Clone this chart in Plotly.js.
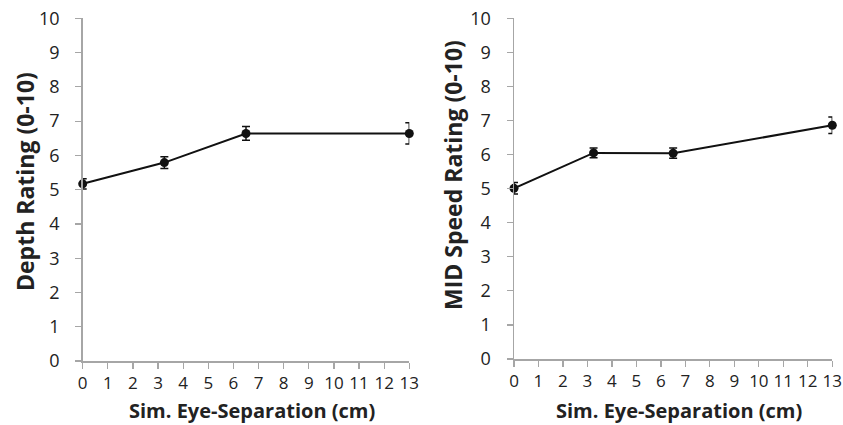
<!DOCTYPE html>
<html>
<head>
<meta charset="utf-8">
<script src="https://cdn.plot.ly/plotly-3.0.1.min.js"></script>
<style>html,body{margin:0;padding:0;background:#fff;}#chart{width:843px;height:425px;}</style>
</head>
<body>
<div id="chart"></div>
<script>
const separation = [0, 3.25, 6.5, 13];
const depthRating = [5.17, 5.79, 6.64, 6.64];
const depthError = [0.15, 0.17, 0.2, 0.31];
const speedRating = [5.01, 6.05, 6.04, 6.86];
const speedError = [0.17, 0.14, 0.15, 0.24];
const xTicks = [0,1,2,3,4,5,6,7,8,9,10,11,12,13];
const yTicks = [0,1,2,3,4,5,6,7,8,9,10];
const xTitle = 'Sim. Eye-Separation (cm)';
const leftTitle = 'Depth Rating (0-10)';
const rightTitle = 'MID Speed Rating (0-10)';

const F = '"Open Sans", "DejaVu Sans", sans-serif';
function trace(y, e, xa, ya) {
  return {
    x: separation, y: y, xaxis: xa, yaxis: ya, type: 'scatter', mode: 'lines+markers',
    cliponaxis: false,
    line: {color: '#111', width: 2},
    marker: {color: '#111', size: 9},
    error_y: {type: 'data', array: e, visible: true, color: '#111', thickness: 1.5, width: 4},
    showlegend: false, hoverinfo: 'skip'
  };
}
const axX = (dom) => ({
  domain: dom, range: [0, 13], tickvals: xTicks, ticktext: xTicks.map(String),
  showgrid: false, zeroline: false, showline: true, linecolor: '#a6a6a6', linewidth: 1.5,
  ticks: 'outside', ticklen: 6, tickcolor: '#a6a6a6', tickwidth: 1.2, ticklabelstandoff: 0,
  tickfont: {family: F, size: 17, color: '#222'}, automargin: false, fixedrange: true
});
const axY = (dom) => ({
  domain: dom, range: [0, 10], tickvals: yTicks, ticktext: yTicks.map(String),
  showgrid: false, zeroline: false, showline: true, linecolor: '#a6a6a6', linewidth: 1.5,
  ticks: 'outside', ticklen: 6, tickcolor: '#a6a6a6', tickwidth: 1.2, ticklabelstandoff: 12,
  tickfont: {family: F, size: 18, color: '#222'}, automargin: false, fixedrange: true
});
const H = 425, W = 843;
const layout = {
  width: W, height: H, margin: {l: 0, r: 0, t: 0, b: 0},
  paper_bgcolor: '#fff', plot_bgcolor: '#fff',
  xaxis: axX([82.7/W, 409.3/W]), yaxis: axY([1-361/H, 1-18.3/H]),
  xaxis2: axX([514/W, 832.3/W]), yaxis2: Object.assign(axY([1-359/H, 1-18.3/H]), {anchor: 'x2'}),
  annotations: [
    {text: xTitle, xref: 'paper', yref: 'paper', x: 252/W, y: 1-410/H, showarrow: false,
     font: {family: F, size: 20, color: '#222', weight: 'bold'}, xanchor: 'center', yanchor: 'middle'},
    {text: xTitle, xref: 'paper', yref: 'paper', x: 679/W, y: 1-410/H, showarrow: false,
     font: {family: F, size: 20, color: '#222', weight: 'bold'}, xanchor: 'center', yanchor: 'middle'},
    {text: leftTitle, xref: 'paper', yref: 'paper', x: 25/W, y: 1-182/H, showarrow: false, textangle: -90,
     font: {family: F, size: 23, color: '#222', weight: 'bold'}, xanchor: 'center', yanchor: 'middle'},
    {text: rightTitle, xref: 'paper', yref: 'paper', x: 453/W, y: 1-175/H, showarrow: false, textangle: -90,
     font: {family: F, size: 23, color: '#222', weight: 'bold'}, xanchor: 'center', yanchor: 'middle'}
  ]
};
layout.xaxis.anchor = 'y';
layout.xaxis2.anchor = 'y2';
layout.yaxis.anchor = 'x';
Plotly.newPlot('chart', [trace(depthRating, depthError, 'x', 'y'), trace(speedRating, speedError, 'x2', 'y2')], layout, {staticPlot: true, displayModeBar: false});
</script>
</body>
</html>
